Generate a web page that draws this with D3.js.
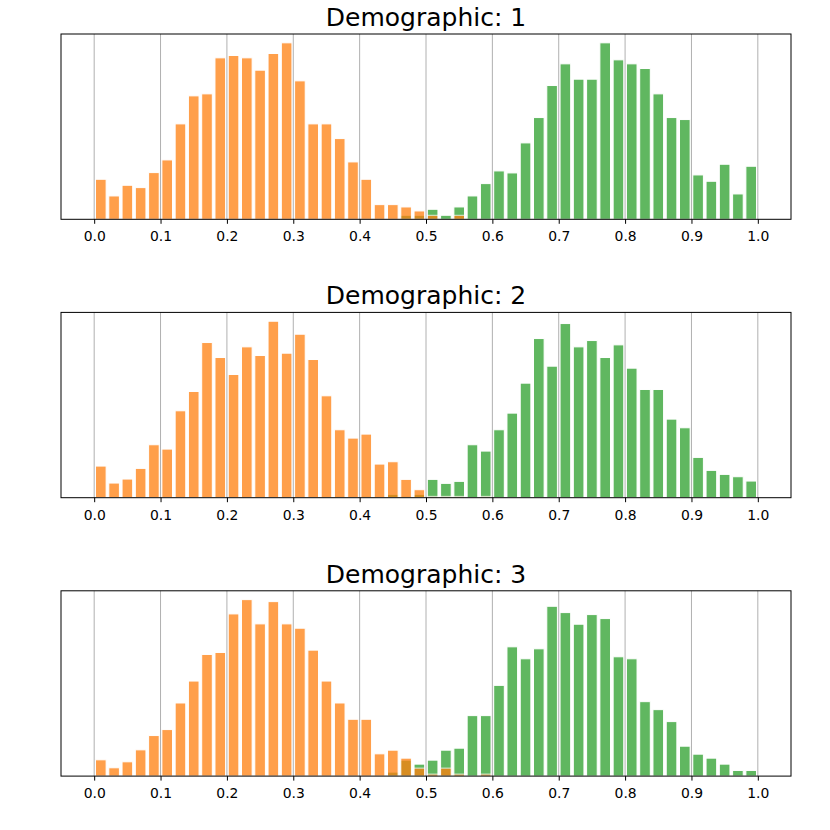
<!DOCTYPE html>
<html>
<head>
<meta charset="utf-8">
<script src="https://cdn.jsdelivr.net/npm/d3@7"></script>
<style>
  body { margin: 0; background: #fff; }
  text { font-family: "DejaVu Sans", sans-serif; fill: #000; }
</style>
</head>
<body>
<svg width="830" height="830"></svg>
<script>
// histogram counts, 50 bins from 0 to 1 (units)
var binWidth = 0.02;
var titles = ["Demographic: 1", "Demographic: 2", "Demographic: 3"];
var tickValues = [0, 0.1, 0.2, 0.3, 0.4, 0.5, 0.6, 0.7, 0.8, 0.9, 1.0];

var demo1Orange = [120,70,102,95,140,178,286,370,376,484,491,484,447,497,529,415,286,286,242,172,
                   120,44,44,37,25,12,0,12,0,0,0,0,0,0,0,0,0,0,0,0,
                   0,0,0,0,0,0,0,0,0,0];
var demo1Green  = [0,0,0,0,0,0,0,0,0,0,0,0,0,0,0,0,0,0,0,0,
                   0,0,0,12,12,30,12,37,70,107,145,139,229,305,401,466,420,420,529,478,
                   466,452,376,305,299,133,114,165,76,159];

var demo2Orange = [95,44,56,88,159,146,261,319,466,421,370,453,427,530,434,491,415,306,204,179,
                   191,101,108,55,24,4,4,4,0,4,0,0,0,0,0,0,0,0,0,0,
                   0,0,0,0,0,0,0,0,0,0];
var demo2Green  = [0,0,0,0,0,0,0,0,0,0,0,0,0,0,0,0,0,0,4,0,
                   4,0,10,4,10,55,43,49,159,140,204,254,344,478,395,523,453,472,421,459,
                   389,325,325,236,210,121,82,70,63,50];

var demo3Orange = [49,25,43,79,122,140,220,286,366,372,488,531,458,525,458,445,379,286,220,171,
                   171,67,78,54,24,6,24,6,0,6,0,0,0,0,0,0,0,0,0,0,
                   0,0,0,0,0,0,0,0,0,0];
var demo3Green  = [0,0,0,0,0,0,0,0,0,0,0,0,0,0,0,0,0,0,0,0,
                   0,0,12,48,36,48,78,84,182,182,273,389,353,383,511,492,457,486,474,359,
                   353,224,200,164,90,66,54,36,17,17];

var panels = [
  {title: titles[0], orange: demo1Orange, green: demo1Green},
  {title: titles[1], orange: demo2Orange, green: demo2Green},
  {title: titles[2], orange: demo3Orange, green: demo3Green}
];

var svg = d3.select("svg");
var left = 61, right = 791;
var panelTop = 34, panelStep = 278.4, panelHeight = 185.3;

var x = d3.scaleLinear().domain([-0.05, 1.05]).range([left, right]);

panels.forEach(function(p, i) {
  var top = panelTop + i * panelStep;
  var bottom = top + panelHeight;
  var ymax = d3.max(p.orange.concat(p.green)) * 1.05;
  var y = d3.scaleLinear().domain([0, ymax]).range([bottom, top]);

  var g = svg.append("g");

  // bars: green first, orange on top, both semi-transparent
  function drawBars(values, color) {
    g.append("g").selectAll("rect")
      .data(values.map(function(v, k) { return {x0: k * binWidth, v: v}; }).filter(d => d.v > 0))
      .join("rect")
      .attr("x", d => x(d.x0 + binWidth * 0.1))
      .attr("width", d => x(d.x0 + binWidth * 0.9) - x(d.x0 + binWidth * 0.1))
      .attr("y", d => y(d.v))
      .attr("height", d => y(0) - y(d.v))
      .attr("fill", color)
      .attr("stroke", "#fff")
      .attr("stroke-width", 1)
      .attr("opacity", 0.75);
  }
  drawBars(p.green, "#2ca02c");
  drawBars(p.orange, "#ff7f0e");

  // vertical grid
  g.append("g").selectAll("line")
    .data(tickValues)
    .join("line")
    .attr("x1", d => x(d)).attr("x2", d => x(d))
    .attr("y1", top).attr("y2", bottom)
    .attr("stroke", "#b0b0b0")
    .attr("stroke-width", 1);

  // x axis
  var axis = d3.axisBottom(x)
    .tickValues(tickValues)
    .tickFormat(d3.format(".1f"))
    .tickSize(4.5)
    .tickPadding(7.5);
  var ax = g.append("g")
    .attr("transform", "translate(0," + bottom + ")")
    .call(axis);
  ax.select(".domain").remove();
  ax.selectAll("text")
    .attr("font-size", "13.9px")
    .attr("font-family", "DejaVu Sans, sans-serif");
  ax.selectAll("line").attr("stroke", "#000").attr("stroke-width", 1);

  // frame
  g.append("rect")
    .attr("x", left).attr("y", top)
    .attr("width", right - left).attr("height", panelHeight)
    .attr("fill", "none")
    .attr("stroke", "#000")
    .attr("stroke-width", 1);

  g.append("text")
    .attr("x", (left + right) / 2)
    .attr("y", top - 8)
    .attr("text-anchor", "middle")
    .attr("font-size", "25px")
    .text(p.title);
});
</script>
</body>
</html>
